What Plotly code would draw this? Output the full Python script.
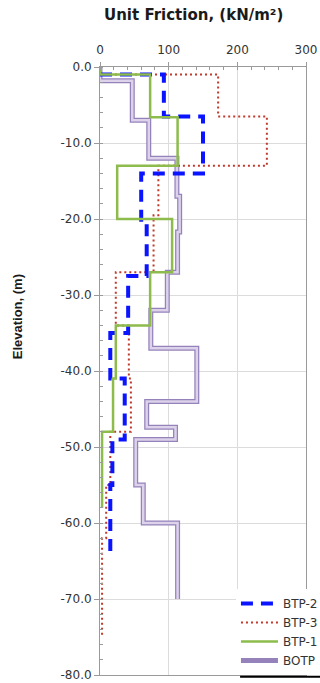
import plotly.graph_objects as go

# ---- data (elevation boundaries in m, unit friction in kN/m²) ----
btp2_elev = [-1, -6.5, -14, -20.5, -27.5, -35, -41, -49, -55, -64]
btp2_fric = [93, 150, 60, 68, 41, 15, 36, 18, 15]

btp3_elev = [-1, -6.5, -13, -19.5, -27, -34, -41, -48, -55, -62, -75]
btp3_fric = [172, 243, 85, 78, 23, 42, 45, 15, 9, 3]

btp1_elev = [0, -1, -6.6, -13, -20, -27, -34, -41, -48, -58]
btp1_fric = [0, 73, 113, 25, 105, 73, 23, 19, 3]

botp_elev = [0, -1.8, -7, -12, -17, -21.7, -27, -32, -37, -44, -47.4, -49, -55, -60, -70]
botp_fric = [0, 47, 71, 112, 116, 113, 98, 74, 141, 68, 110, 52, 63, 113]

x_ticks = [0, 100, 200, 300]
y_ticks = [0, -10, -20, -30, -40, -50, -60, -70, -80]
y_tick_text = ["0.0", "-10.0", "-20.0", "-30.0", "-40.0", "-50.0", "-60.0", "-70.0", "-80.0"]


def step_path(elev, fric, start_at_axis):
    xs, ys = [], []
    if start_at_axis:
        xs.append(0)
        ys.append(elev[0])
    for i, f in enumerate(fric):
        xs += [f, f]
        ys += [elev[i], elev[i + 1]]
    return xs, ys


FONT = "DejaVu Sans, Arial, sans-serif"
TFONT = "Liberation Sans, Arial, sans-serif"
fig = go.Figure()

bx, by = step_path(botp_elev, botp_fric, False)
fig.add_trace(go.Scatter(x=bx, y=by, mode="lines", name="BOTP", legendrank=4,
                         line=dict(color="#9582bb", width=5), legendgroup="botp"))
fig.add_trace(go.Scatter(x=bx, y=by, mode="lines", name="BOTP", showlegend=False,
                         line=dict(color="#dcd2ea", width=2.5), legendgroup="botp"))

x3, y3 = step_path(btp3_elev, btp3_fric, True)
fig.add_trace(go.Scatter(x=x3, y=y3, mode="lines", name="BTP-3", legendrank=2,
                         line=dict(color="#c0392b", width=2, dash="2px,3px")))

x2, y2 = step_path(btp2_elev, btp2_fric, True)
fig.add_trace(go.Scatter(x=x2, y=y2, mode="lines", name="BTP-2", legendrank=1,
                         line=dict(color="#0a14ff", width=4, dash="12px,8px")))

x1, y1 = step_path(btp1_elev, btp1_fric, False)
fig.add_trace(go.Scatter(x=x1, y=y1, mode="lines", name="BTP-1", legendrank=3,
                         line=dict(color="#8dbb4c", width=2.5)))

fig.update_layout(
    width=320, height=683, autosize=False,
    margin=dict(l=100, r=14, t=67, b=8, autoexpand=False),
    paper_bgcolor="white", plot_bgcolor="white",
    font=dict(family=FONT, size=12, color="#404040"),
    xaxis=dict(side="top", range=[0, 300], tickvals=x_ticks,
               showgrid=True, gridcolor="#dcdcdc", gridwidth=1,
               showline=True, linecolor="#9a9a9a", linewidth=1, mirror=True,
               ticks="outside", ticklen=4, tickcolor="#9a9a9a", ticklabelstandoff=3,
               minor=dict(dtick=20, ticks="inside", ticklen=3, tickcolor="#9a9a9a", showgrid=False),
               zeroline=False, tickfont=dict(family=FONT, size=12, color="#333333")),
    yaxis=dict(range=[-80, 0], tickvals=y_ticks, ticktext=y_tick_text,
               showgrid=True, gridcolor="#dcdcdc", gridwidth=1,
               showline=True, linecolor="#9a9a9a", linewidth=1, mirror=True,
               ticks="outside", ticklen=5, tickcolor="#9a9a9a",
               minor=dict(dtick=2, ticks="inside", ticklen=3, tickcolor="#9a9a9a", showgrid=False),
               zeroline=False, tickfont=dict(family=FONT, size=12, color="#333333")),
    legend=dict(x=0.66, y=0, xanchor="left", yanchor="bottom",
                bgcolor="white", borderwidth=0, itemwidth=37,
                font=dict(family=FONT, size=12, color="#333333"),
                tracegroupgap=0),
    annotations=[
        dict(text="<b>Unit Friction, (kN/m²)</b>", xref="paper", yref="paper",
             x=0.456, y=1.0855, xanchor="center", yanchor="middle", showarrow=False,
             font=dict(family="DejaVu Sans, sans-serif", size=15, color="#1a1a1a")),
        dict(text="<b>Elevation, (m)</b>", xref="paper", yref="paper",
             x=-0.403, y=0.59, xanchor="center", yanchor="middle", showarrow=False,
             textangle=-90, font=dict(family=TFONT, size=13, color="#1a1a1a")),
    ],
    shapes=[dict(type="line", xref="paper", yref="paper", x0=0.68, x1=1.07,
                 y0=-0.003, y1=-0.003, line=dict(color="black", width=2))],
)

fig.write_html("out.html")
